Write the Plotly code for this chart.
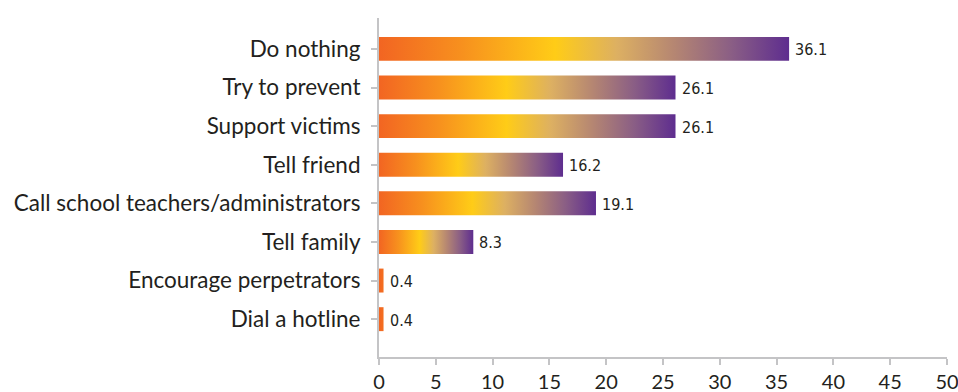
import plotly.graph_objects as go

categories = ["Do nothing", "Try to prevent", "Support victims", "Tell friend",
              "Call school teachers/administrators", "Tell family",
              "Encourage perpetrators", "Dial a hotline"]
values = [36.1, 26.1, 26.1, 16.2, 19.1, 8.3, 0.4, 0.4]
x_ticks = [0, 5, 10, 15, 20, 25, 30, 35, 40, 45, 50]

grad = [[0.0, "#F26522"], [0.2, "#F7901E"], [0.43, "#FFCC17"], [0.58, "#DDB062"],
        [0.72, "#B58672"], [0.86, "#8A5E85"], [1.0, "#5E2D8F"]]

half = 0.31
fig = go.Figure()
for i, (c, v) in enumerate(zip(categories, values)):
    stop = v if v >= 2 else 8.0
    fig.add_trace(go.Scatter(
        x=[0, v, v, 0, 0], y=[i - half, i - half, i + half, i + half, i - half],
        mode="lines", line=dict(width=0), fill="toself",
        fillgradient=dict(type="horizontal", colorscale=grad, start=0, stop=stop),
        hoverinfo="skip", showlegend=False))

for i, v in enumerate(values):
    fig.add_annotation(x=v, y=i, text=f"{v:.1f}", showarrow=False,
                       xanchor="left", yanchor="middle", xshift=4, yshift=-1,
                       font=dict(family="DejaVu Sans Condensed, sans-serif",
                                 size=16, color="#231F20"))

fig.update_layout(
    width=958, height=392,
    margin=dict(l=379, r=11, t=18, b=35),
    plot_bgcolor="white", paper_bgcolor="white",
    font=dict(family="Lato, Open Sans, sans-serif", size=20, color="#231F20"),
    xaxis=dict(range=[0, 50], tickvals=x_ticks, showgrid=False, zeroline=False,
               showline=True, linecolor="#C4C4C6", linewidth=2, automargin=False,
               ticks="outside", ticklen=6, tickwidth=2, tickcolor="#C4C4C6",
               ticklabelstandoff=0, ticklabeloverflow="allow",
               tickfont=dict(size=20)),
    yaxis=dict(range=[7.98, -0.8], tickvals=list(range(len(categories))),
               ticktext=categories, showgrid=False, zeroline=False, automargin=False,
               showline=True, linecolor="#C4C4C6", linewidth=2,
               ticks="outside", ticklen=6, tickwidth=2, tickcolor="#C4C4C6",
               ticklabelstandoff=6, tickfont=dict(size=22.5)),
)
fig.write_html("out.html")
